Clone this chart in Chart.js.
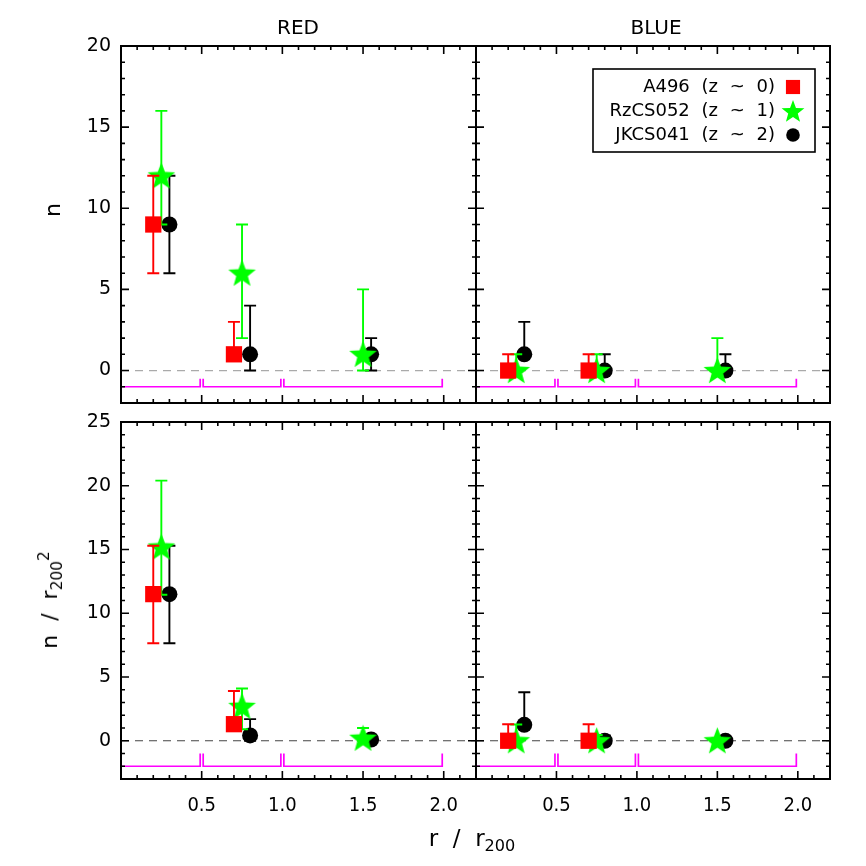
<!DOCTYPE html>
<html>
<head>
<meta charset="utf-8">
<script src="https://cdn.jsdelivr.net/npm/chart.js@4.4.0/dist/chart.umd.min.js"></script>
<style>
  body { margin: 0; background: #fff; }
  #wrap { position: relative; width: 866px; height: 866px; overflow: hidden; font-family: 'DejaVu Sans', sans-serif; color: #000; }
  #wrap canvas { position: absolute; left: 0; top: 0; }
  .lbl { position: absolute; white-space: nowrap; line-height: 1; transform: translate(-50%, -50%); }
  .rot { transform: translate(-50%, -50%) rotate(-90deg); }
  sub, sup { font-size: 70%; line-height: 0; }
</style>
</head>
<body>
<div id="wrap">
  <canvas id="c0" width="866" height="866"></canvas>
  <canvas id="c1" width="866" height="866"></canvas>
  <canvas id="c2" width="866" height="866"></canvas>
  <canvas id="c3" width="866" height="866"></canvas>
  <div class="lbl" style="left:298px;top:27px;font-size:20px">RED</div>
  <div class="lbl" style="left:656px;top:27px;font-size:20px">BLUE</div>
  <div class="lbl rot" style="left:53px;top:210px;font-size:22px">n</div>
  <div class="lbl rot" style="left:50px;top:600px;font-size:22px">n &nbsp;/&nbsp; r<sub>200</sub><sup>2</sup></div>
  <div class="lbl" style="left:472px;top:838px;font-size:23px">r &nbsp;/&nbsp; r<sub>200</sub></div>
</div>
<script>
// clusters
const seriesNames = ['A496 (z ~ 0)', 'RzCS052 (z ~ 1)', 'JKCS041 (z ~ 2)'];
const seriesColors = ['#ff0000', '#00ff00', '#000000'];

// x position of each cluster's points (r / r200)
const xA496 = [0.2, 0.7];
const xRzCS = [0.25, 0.75, 1.5];
const xJKCS = [0.3, 0.8, 1.55];

// radial bins (magenta brackets)
const binEdges = [0, 0.5, 1.0, 2.0];

// axis ticks
const xTicks = [0.5, 1.0, 1.5, 2.0];
const yTicksN = [0, 5, 10, 15, 20];
const yTicksDens = [0, 5, 10, 15, 20, 25];

// points as [value, low, high]
// RED, n
const nRedA496 = [[9, 6, 12], [1, 1, 3]];
const nRedRzCS = [[12, 9, 16], [6, 2, 9], [1, 0, 5]];
const nRedJKCS = [[9, 6, 12], [1, 0, 4], [1, 0, 2]];
// BLUE, n
const nBlueA496 = [[0, 0, 1], [0, 0, 1]];
const nBlueRzCS = [[0, 0, 1], [0, 0, 1], [0, 0, 2]];
const nBlueJKCS = [[1, 1, 3], [0, 0, 1], [0, 0, 1]];
// RED, n / r200^2
const dRedA496 = [[11.5, 7.65, 15.3], [1.3, 1.3, 3.9]];
const dRedRzCS = [[15.2, 11.45, 20.4], [2.7, 0.9, 4.1], [0.2, 0, 1.0]];
const dRedJKCS = [[11.5, 7.65, 15.3], [0.42, 0, 1.7], [0.1, 0, 0.2]];
// BLUE, n / r200^2
const dBlueA496 = [[0, 0, 1.3], [0, 0, 1.3]];
const dBlueRzCS = [[0, 0, 1.27], [0, 0, 0.45], [0, 0, 0.2]];
const dBlueJKCS = [[1.25, 1.25, 3.8], [0, 0, 0.42], [0, 0, 0.1]];

function starImage(size, color) {
  const c = document.createElement('canvas');
  c.width = c.height = size;
  const g = c.getContext('2d');
  const R = size / 2, r = R * 0.42;
  g.beginPath();
  for (let k = 0; k < 10; k++) {
    const a = -Math.PI / 2 + k * Math.PI / 5;
    const rad = k % 2 ? r : R;
    g.lineTo(R + rad * Math.cos(a), R + 1 + rad * Math.sin(a));
  }
  g.closePath();
  g.fillStyle = color;
  g.fill();
  return c;
}

const pointStyles = ['rect', starImage(29, '#00ff00'), 'circle'];
const pointRadii = [11.5, 14, 8];
const legendStyles = ['rect', starImage(24, '#00ff00'), 'circle'];
const legendRadii = [10, 11, 6.8];

const panelPlugin = {
  id: 'panel',
  beforeDatasetsDraw(chart) {
    const { ctx, chartArea: a, scales: { x, y } } = chart;
    const o = chart.options.plugins.panel;
    ctx.save();
    // zero line
    ctx.strokeStyle = o.zeroColor;
    ctx.lineWidth = 1.2;
    ctx.setLineDash([8, 6]);
    ctx.beginPath();
    ctx.moveTo(a.left, y.getPixelForValue(0));
    ctx.lineTo(a.right, y.getPixelForValue(0));
    ctx.stroke();
    ctx.setLineDash([]);
    // bin brackets
    ctx.strokeStyle = '#ff00ff';
    ctx.lineWidth = 1.7;
    const yb = y.getPixelForValue(o.binLevel);
    const yt = y.getPixelForValue(o.binLevel + o.binTick);
    for (let i = 0; i < binEdges.length - 1; i++) {
      const x0 = x.getPixelForValue(binEdges[i]) + (i > 0 ? 1.5 : 0);
      const x1 = x.getPixelForValue(binEdges[i + 1]) - 1.5;
      ctx.beginPath();
      ctx.moveTo(x0, yt);
      ctx.lineTo(x0, yb);
      ctx.lineTo(x1, yb);
      ctx.lineTo(x1, yt);
      ctx.stroke();
    }
    ctx.restore();
  },
  beforeDatasetDraw(chart, args) {
    const { ctx, scales: { x, y } } = chart;
    const ds = chart.data.datasets[args.index];
    ctx.save();
    ctx.strokeStyle = ds.borderColor;
    ctx.lineWidth = 1.9;
    ds.data.forEach(p => {
      const px = x.getPixelForValue(p.x);
      const py = y.getPixelForValue(p.y);
      [p.hi, p.lo].forEach(v => {
        if (v === p.y) return;
        const pv = y.getPixelForValue(v);
        ctx.beginPath();
        ctx.moveTo(px, py);
        ctx.lineTo(px, pv);
        ctx.moveTo(px - 6, pv);
        ctx.lineTo(px + 6, pv);
        ctx.stroke();
      });
    });
    ctx.restore();
  },
  afterDatasetsDraw(chart) {
    const { ctx, chartArea: a, scales: { x, y } } = chart;
    const o = chart.options.plugins.panel;
    ctx.save();
    ctx.strokeStyle = '#000';
    ctx.lineWidth = 1.6;
    // x ticks, major and minor, top and bottom, pointing in
    for (let k = 1; k <= 21; k++) {
      const v = k / 10;
      const len = xTicks.some(t => Math.abs(t - v) < 1e-6) ? 8 : 4;
      const px = x.getPixelForValue(v);
      ctx.beginPath();
      ctx.moveTo(px, a.bottom); ctx.lineTo(px, a.bottom - len);
      ctx.moveTo(px, a.top); ctx.lineTo(px, a.top + len);
      ctx.stroke();
    }
    // y ticks every unit
    for (let v = Math.ceil(y.min); v <= y.max; v++) {
      const len = o.yTicks.includes(v) ? 8 : 4;
      const py = y.getPixelForValue(v);
      ctx.beginPath();
      ctx.moveTo(a.left, py); ctx.lineTo(a.left + len, py);
      ctx.moveTo(a.right, py); ctx.lineTo(a.right - len, py);
      ctx.stroke();
    }
    ctx.lineWidth = 2;
    ctx.strokeRect(a.left, a.top, a.right - a.left, a.bottom - a.top);
    // legend
    if (o.legend) {
      const bx0 = a.right - 237, bx1 = a.right - 15, by0 = a.top + 23, by1 = a.top + 106;
      ctx.lineWidth = 1.6;
      ctx.strokeRect(bx0, by0, bx1 - bx0, by1 - by0);
      ctx.font = '18px "DejaVu Sans", sans-serif';
      ctx.textAlign = 'right';
      ctx.textBaseline = 'middle';
      ctx.wordSpacing = '6px';
      chart.data.datasets.forEach((ds, i) => {
        const ly = by0 + 18 + i * 24;
        ctx.fillStyle = '#000';
        ctx.fillText(ds.label, bx1 - 40, ly);
        ctx.fillStyle = ds.backgroundColor;
        Chart.helpers.drawPoint(ctx, { pointStyle: legendStyles[i], radius: legendRadii[i], rotation: 0, borderWidth: 0 }, bx1 - 22, ly);
      });
    }
    ctx.restore();
  }
};

const Y_AXIS_W = 60, X_AXIS_H = 45;

function makePanel(id, area, yMin, yMax, yTicks, series, o) {
  const xs = [xA496, xRzCS, xJKCS];
  const yw = o.yLabels ? Y_AXIS_W : 0;
  const xh = o.xLabels ? X_AXIS_H : 0;
  return new Chart(document.getElementById(id), {
    type: 'scatter',
    data: {
      datasets: series.map((pts, i) => ({
        label: seriesNames[i],
        data: pts.map((p, j) => ({ x: xs[i][j], y: p[0], lo: p[1], hi: p[2] })),
        pointStyle: pointStyles[i],
        pointRadius: pointRadii[i],
        backgroundColor: seriesColors[i],
        borderColor: seriesColors[i],
        borderWidth: 0,
        clip: false
      }))
    },
    options: {
      responsive: false,
      animation: false,
      events: [],
      layout: { padding: { left: area[0] - yw, top: area[1], right: 866 - area[2], bottom: 866 - area[3] - xh } },
      plugins: {
        legend: { display: false },
        tooltip: { enabled: false },
        panel: { yTicks, legend: o.legend, zeroColor: o.zeroColor, binLevel: o.binLevel, binTick: o.binTick }
      },
      scales: {
        x: {
          type: 'linear', min: 0, max: 2.2,
          grid: { display: false, drawTicks: false },
          border: { display: false },
          afterFit: s => { s.height = xh; },
          afterBuildTicks: s => { s.ticks = xTicks.map(v => ({ value: v })); },
          ticks: {
            display: o.xLabels, padding: 15, color: '#000', maxRotation: 0,
            font: { family: '"DejaVu Sans Condensed", "DejaVu Sans", sans-serif', size: 20 },
            callback: v => v.toFixed(1)
          }
        },
        y: {
          type: 'linear', min: yMin, max: yMax,
          grid: { display: false, drawTicks: false },
          border: { display: false },
          afterFit: s => { s.width = yw; },
          afterBuildTicks: s => { s.ticks = yTicks.map(v => ({ value: v })); },
          ticks: {
            display: o.yLabels, padding: 10, color: '#000',
            font: { family: '"DejaVu Sans", sans-serif', size: 19 }
          }
        }
      }
    },
    plugins: [panelPlugin]
  });
}

makePanel('c0', [121, 46, 476, 403], -2, 20, yTicksN, [nRedA496, nRedRzCS, nRedJKCS],
  { xLabels: false, yLabels: true, legend: false, zeroColor: '#aaaaaa', binLevel: -1, binTick: 0.5 });
makePanel('c1', [476, 46, 830, 403], -2, 20, yTicksN, [nBlueA496, nBlueRzCS, nBlueJKCS],
  { xLabels: false, yLabels: false, legend: true, zeroColor: '#aaaaaa', binLevel: -1, binTick: 0.5 });
makePanel('c2', [121, 422, 476, 779], -3, 25, yTicksDens, [dRedA496, dRedRzCS, dRedJKCS],
  { xLabels: true, yLabels: true, legend: false, zeroColor: '#444444', binLevel: -2, binTick: 1 });
makePanel('c3', [476, 422, 830, 779], -3, 25, yTicksDens, [dBlueA496, dBlueRzCS, dBlueJKCS],
  { xLabels: true, yLabels: false, legend: false, zeroColor: '#444444', binLevel: -2, binTick: 1 });
</script>
</body>
</html>
